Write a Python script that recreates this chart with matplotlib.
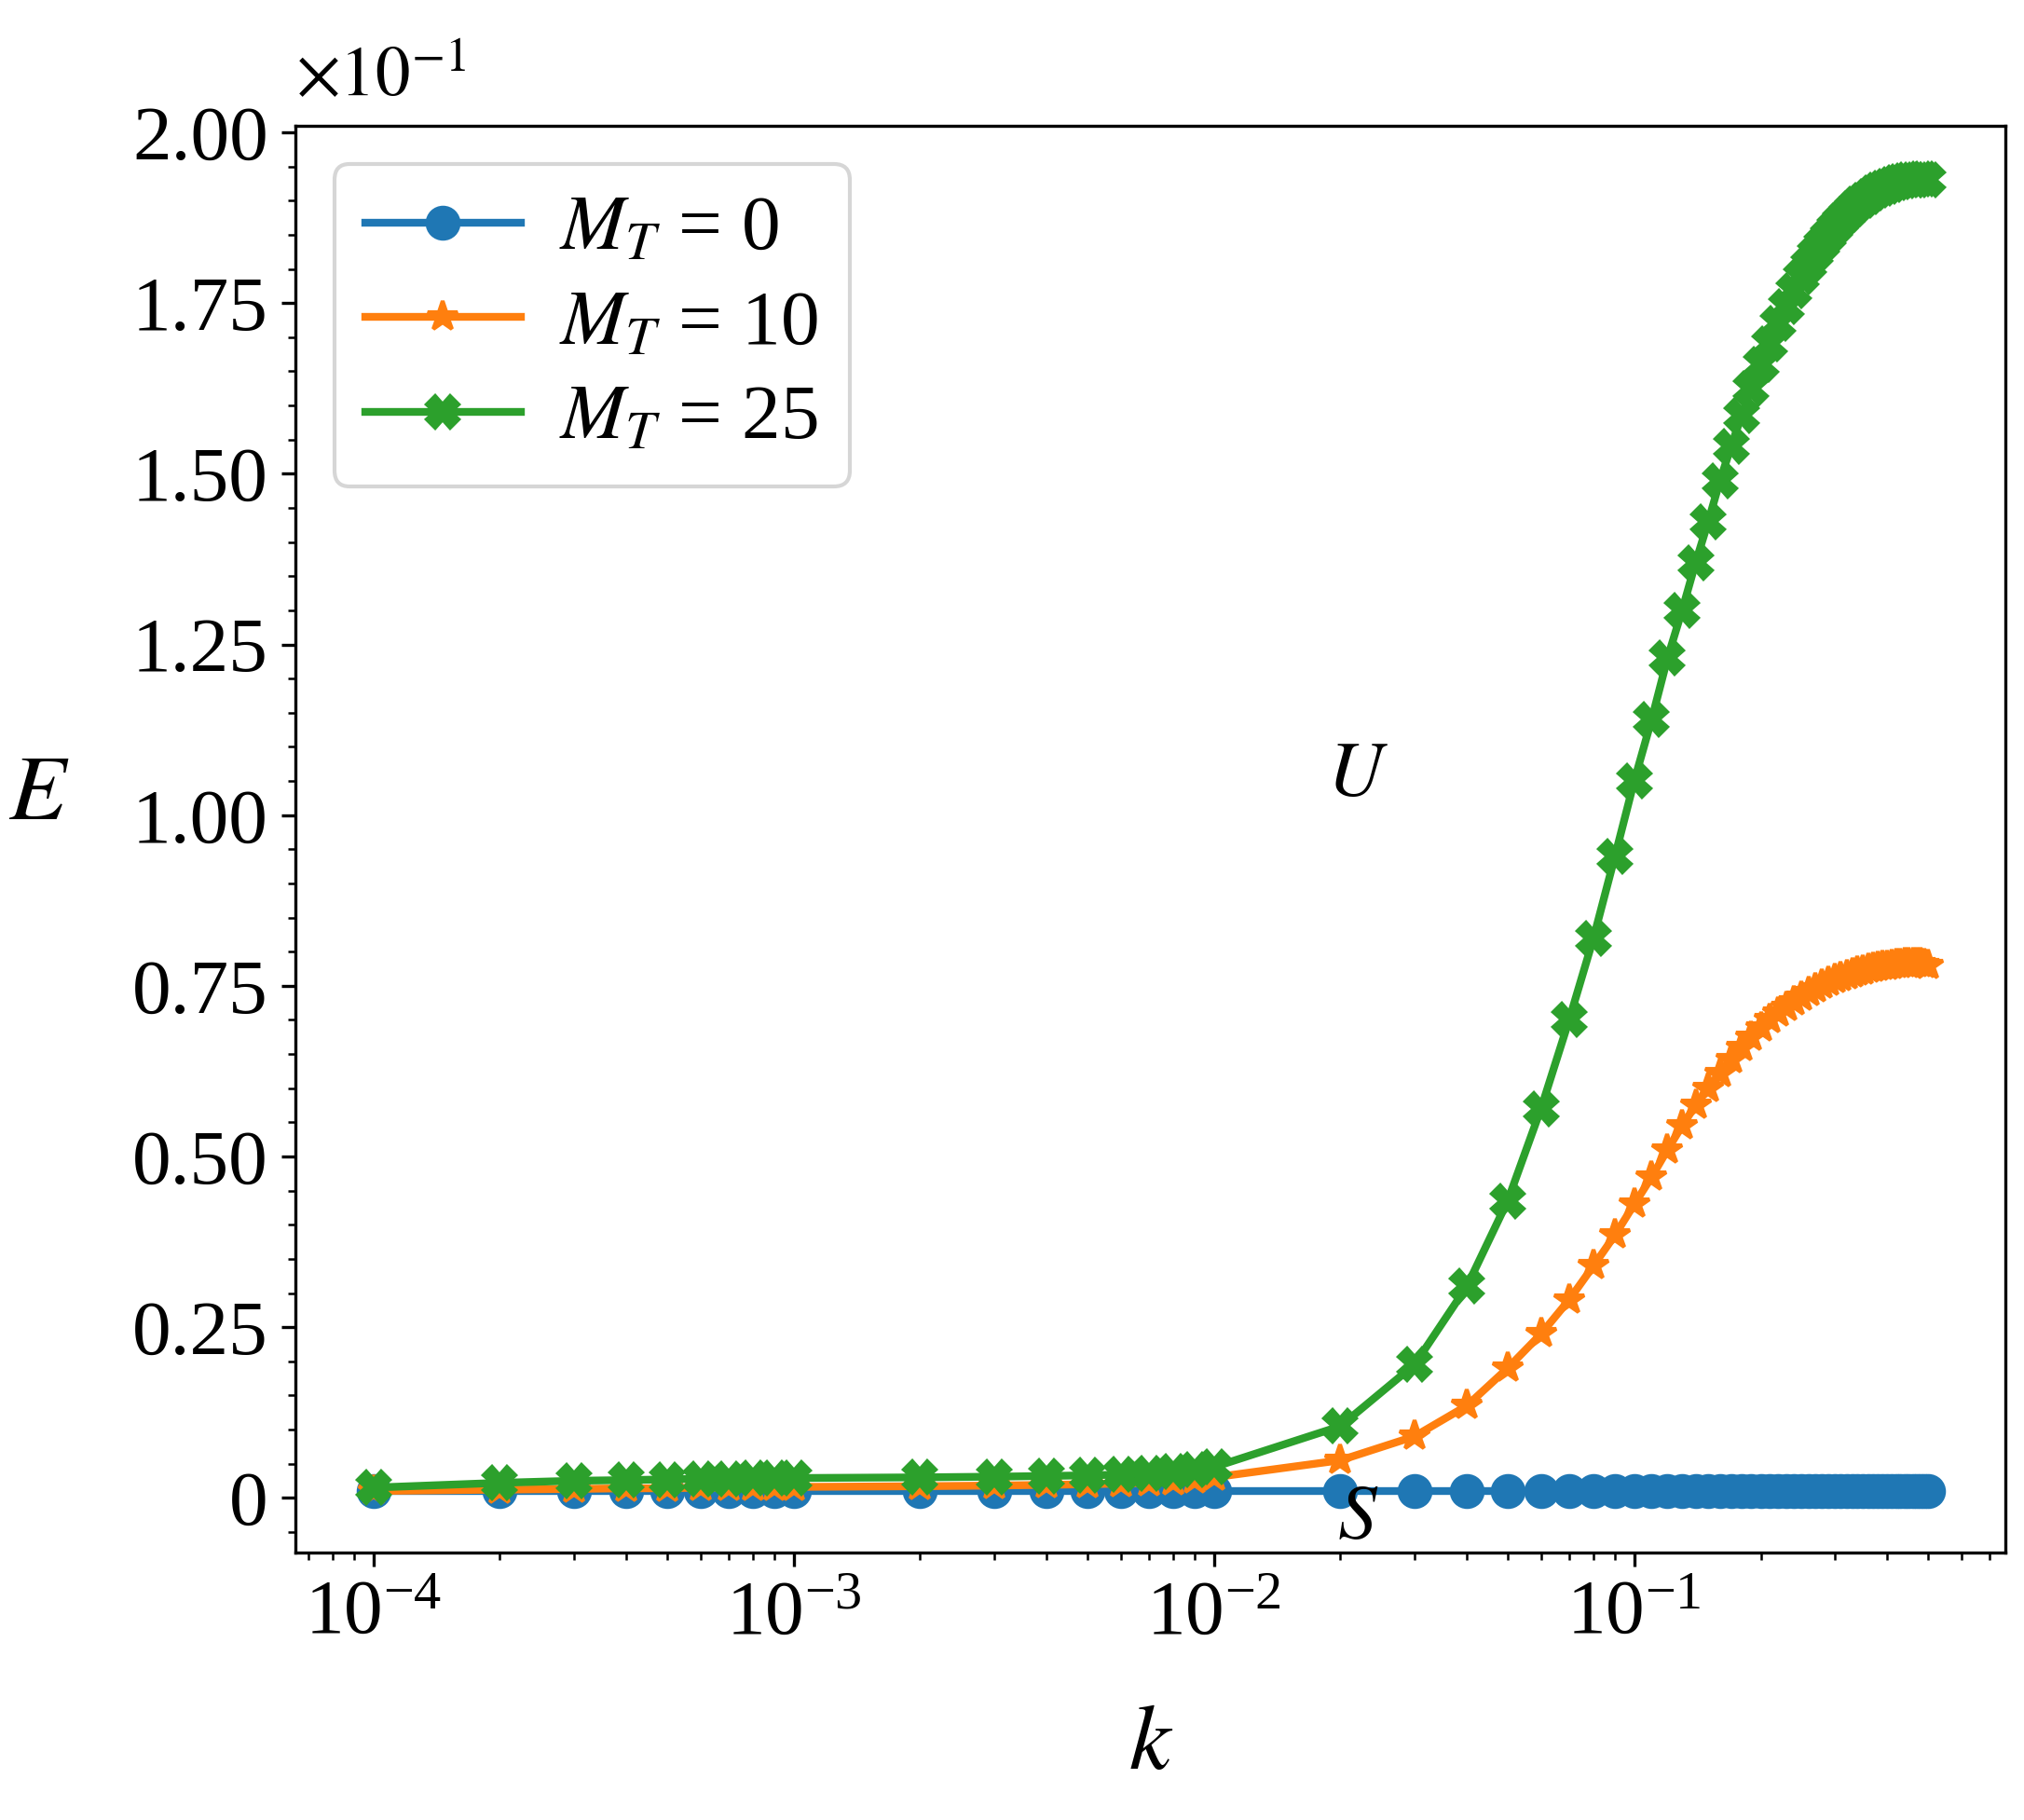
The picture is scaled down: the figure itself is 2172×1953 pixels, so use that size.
import numpy as np
import matplotlib
matplotlib.use("Agg")
import matplotlib.pyplot as plt
from matplotlib.ticker import FuncFormatter, MultipleLocator

plt.rcParams['font.family'] = ['Liberation Serif', 'DejaVu Serif']
plt.rcParams['mathtext.fontset'] = 'stix'

k = ([i * 1e-4 for i in range(1, 10)] + [i * 1e-3 for i in range(1, 10)]
     + [i * 1e-2 for i in range(1, 51)])

e0 = [0.001] * len(k)

e10_small = [0.0010, 0.0012, 0.0013, 0.0014, 0.0014, 0.0015, 0.0015, 0.0015, 0.0015,
             0.0016, 0.0017, 0.0018, 0.0019, 0.0020, 0.0021, 0.0022, 0.0024, 0.0026]
e10_big = [0.0030, 0.0055, 0.0090, 0.0135, 0.0190, 0.0240, 0.0290, 0.0340, 0.0385, 0.0430,
           0.0470, 0.0510, 0.0545, 0.0575, 0.0600, 0.0622, 0.0642, 0.0660, 0.0675, 0.0688,
           0.0700, 0.0710, 0.0719, 0.0727, 0.0734, 0.0740, 0.0746, 0.0751, 0.0755, 0.0759,
           0.0762, 0.0765, 0.0768, 0.0770, 0.0772, 0.0774, 0.0776, 0.0777, 0.0778, 0.0779,
           0.0780, 0.0781, 0.0781, 0.0782, 0.0782, 0.0782, 0.0782, 0.0782, 0.0781, 0.0780]
e10 = e10_small + e10_big

e25_small = [0.0015, 0.0022, 0.0025, 0.0026, 0.0027, 0.0028, 0.0028, 0.0029, 0.0029,
             0.0029, 0.0030, 0.0031, 0.0032, 0.0033, 0.0034, 0.0036, 0.0038, 0.0041]
e25_big = [0.0045, 0.0105, 0.0195, 0.0310, 0.0435, 0.0570, 0.0700, 0.0820, 0.0940, 0.1050,
           0.1140, 0.1230, 0.1300, 0.1370, 0.1430, 0.1490, 0.1540, 0.1585, 0.1625, 0.1660,
           0.1690, 0.1720, 0.1745, 0.1768, 0.1788, 0.1806, 0.1822, 0.1836, 0.1849, 0.1861,
           0.1871, 0.1880, 0.1888, 0.1895, 0.1901, 0.1906, 0.1911, 0.1915, 0.1918, 0.1921,
           0.1924, 0.1926, 0.1928, 0.1929, 0.1930, 0.1931, 0.1931, 0.1932, 0.1932, 0.1931]
e25 = e25_small + e25_big

fig = plt.figure(figsize=(7.24, 6.51), dpi=300)
ax = fig.add_axes([0.146, 0.147, 0.845, 0.784])
ax.plot(k, e0, marker='o', color='#1f77b4', lw=2, ms=8, label=r'$M_T$ = 0')
ax.plot(k, e10, marker='*', color='#ff7f0e', lw=2, ms=8, label=r'$M_T$ = 10')
ax.plot(k, e25, marker='X', color='#2ca02c', lw=2, ms=8, label=r'$M_T$ = 25')
ax.set_xscale('log')
ax.set_ylim(-0.008, 0.201)
ax.yaxis.set_major_locator(MultipleLocator(0.025))
ax.yaxis.set_minor_locator(MultipleLocator(0.005))
ax.yaxis.set_major_formatter(FuncFormatter(lambda v, p: '0' if abs(v) < 1e-9 else f'{v*10:.2f}'))
ax.tick_params(labelsize=20)
ax.set_xlabel(r'$k$', fontsize=24, labelpad=14)
ax.set_ylabel(r'$E$', fontsize=24, rotation=0, labelpad=24)
ax.text(0.0, 1.01, r'$\times 10^{-1}$', transform=ax.transAxes, fontsize=18, va='bottom', ha='left')
ax.text(0.022, 0.103, r'$U$', fontsize=20, ha='center')
ax.text(0.022, -0.006, r'$S$', fontsize=20, ha='center')
ax.legend(loc='upper left', fontsize=20, handlelength=2.0, handletextpad=0.5, borderpad=0.4, labelspacing=0.3)
fig.savefig('out.png', dpi=300)
